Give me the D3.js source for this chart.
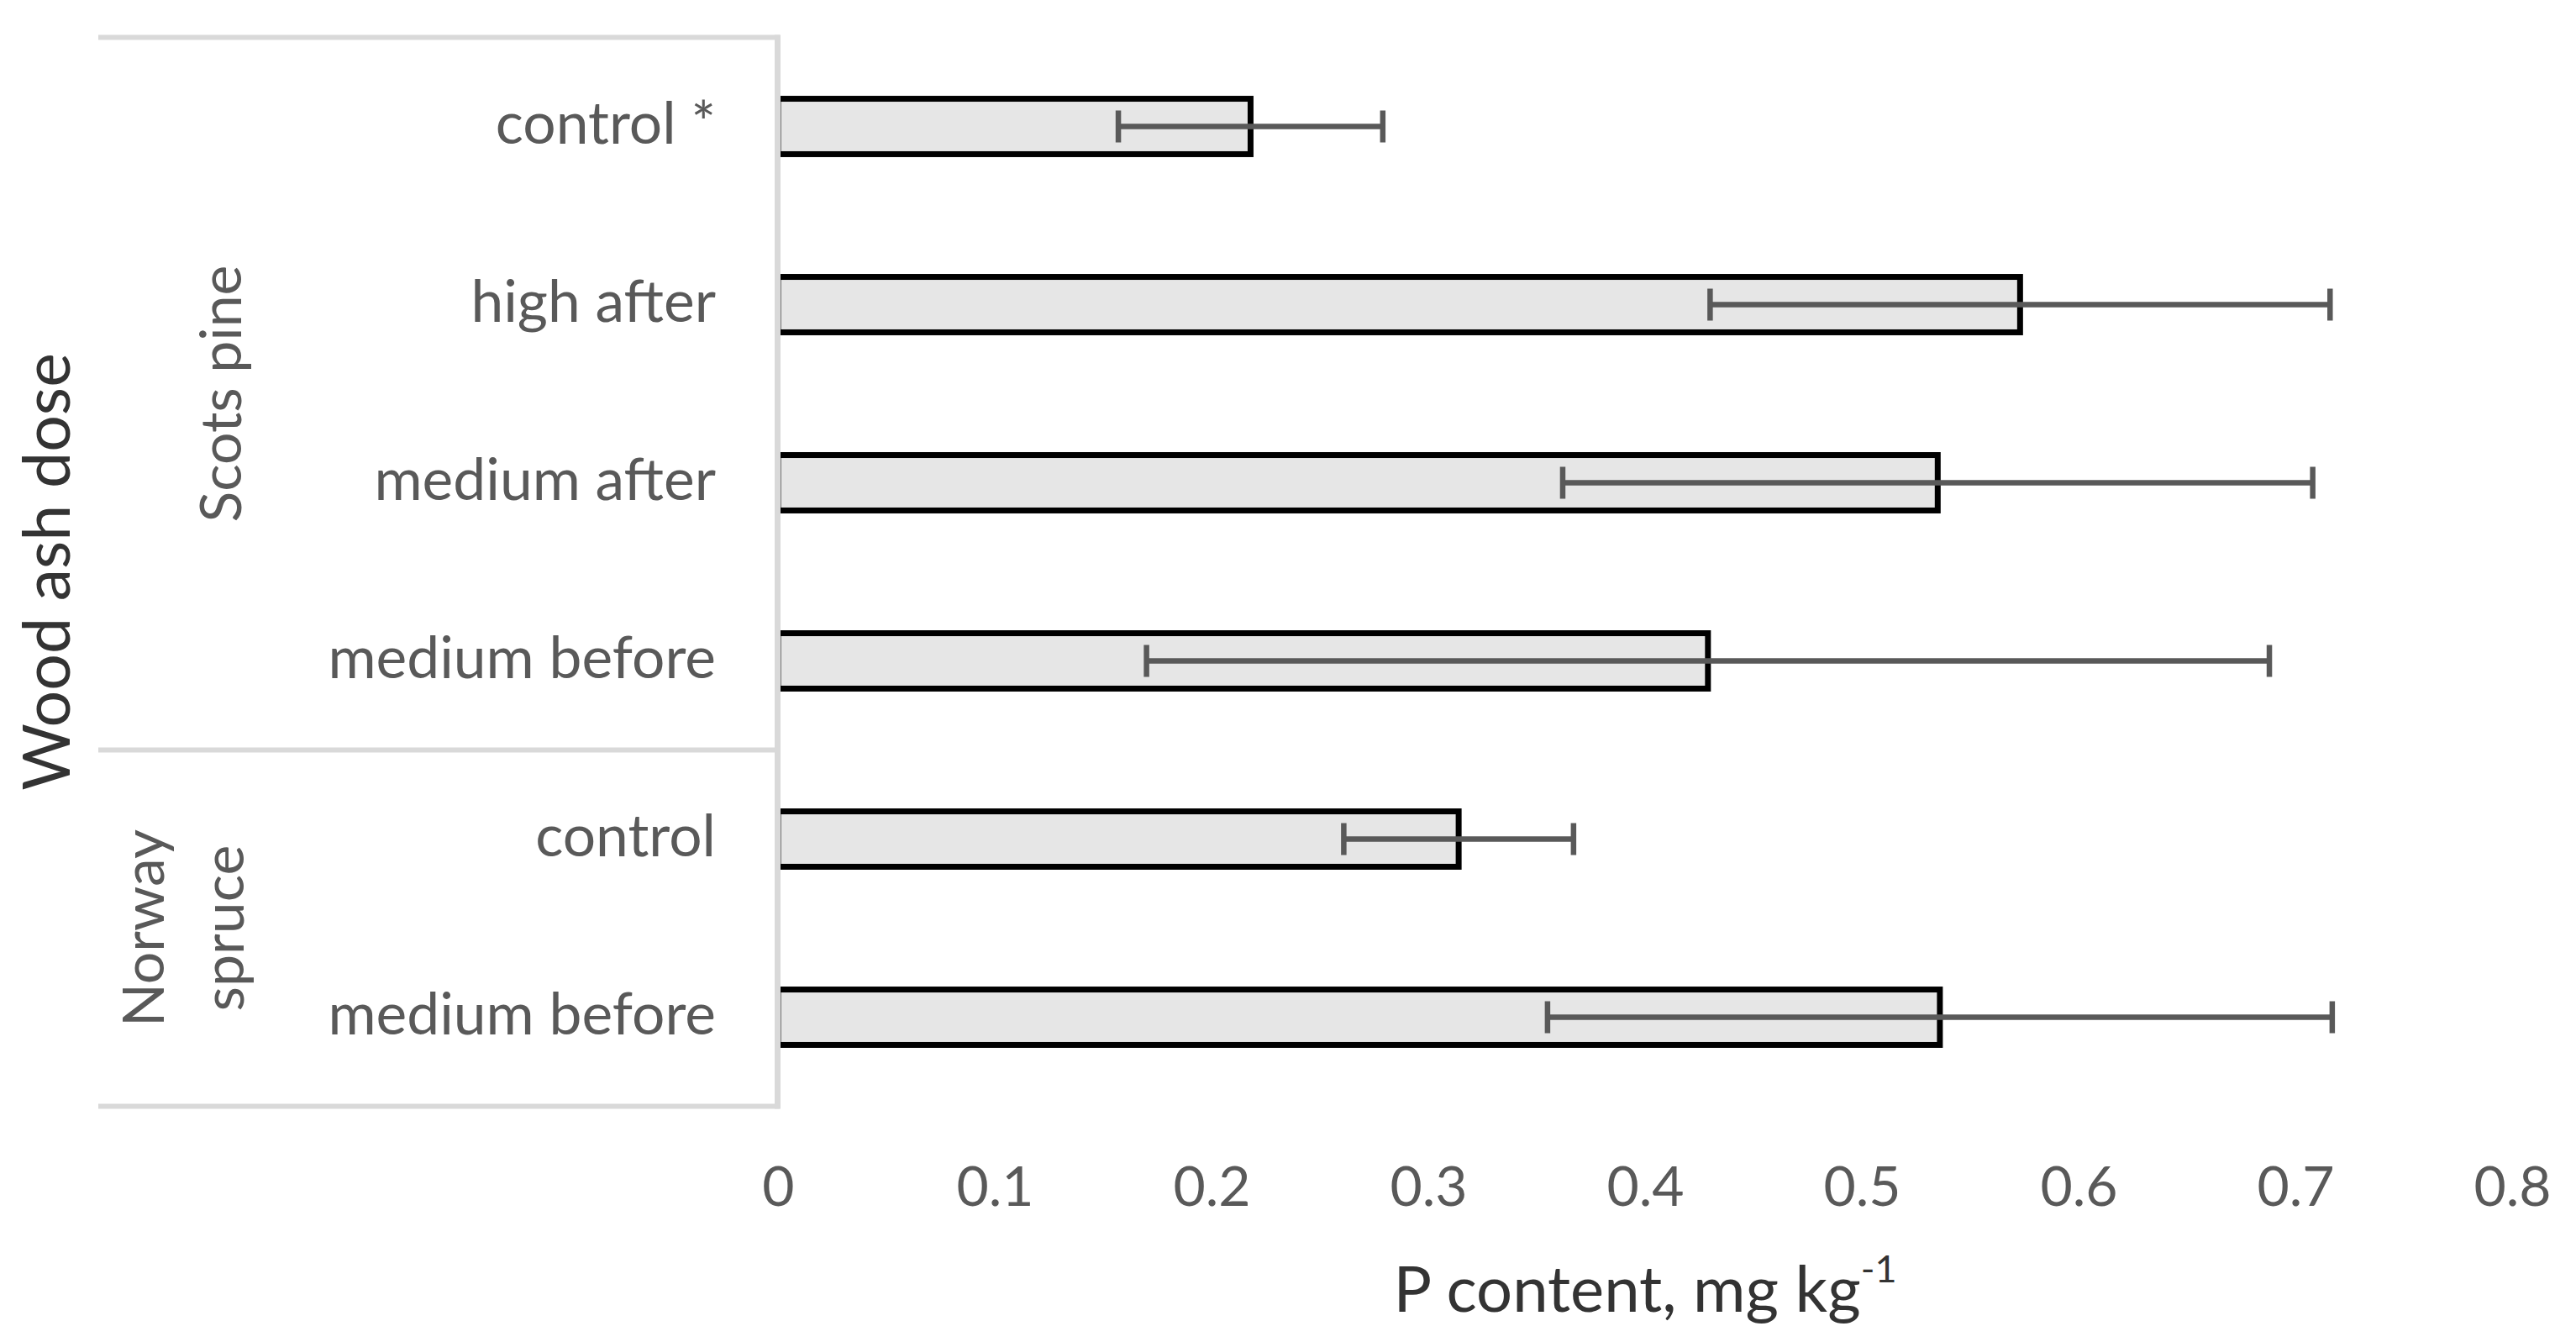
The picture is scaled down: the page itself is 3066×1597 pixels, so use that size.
<!DOCTYPE html>
<html>
<head>
<meta charset="utf-8">
<script src="https://cdn.jsdelivr.net/npm/d3@7"></script>
<style>
  body { margin: 0; background: #fff; }
  text { font-family: Lato, "Open Sans", sans-serif; }
</style>
</head>
<body>
<svg width="3066" height="1597"></svg>
<script>
// data (top to bottom)
var labels = ["control *", "high after", "medium after", "medium before", "control", "medium before"];
var groups = ["Scots pine", "Scots pine", "Scots pine", "Scots pine", "Norway spruce", "Norway spruce"];
var values = [0.218, 0.573, 0.535, 0.429, 0.314, 0.536];
var errors = [0.061, 0.143, 0.173, 0.259, 0.053, 0.181];
var xTicks = [0, 0.1, 0.2, 0.3, 0.4, 0.5, 0.6, 0.7, 0.8];

var svg = d3.select("svg");
var plotTop = 44.5;
var plotBottom = 1316.5;
var boxLeft = 117;
var labelGrey = "#595959";
var lineGrey = "#d9d9d9";

var x = d3.scaleLinear().domain([0, 0.8]).range([926, 2990]);
var y = d3.scaleBand().domain(d3.range(labels.length)).range([plotTop, plotBottom]);
var barH = y.bandwidth() * 0.311;

// bars
svg.append("g").selectAll("rect")
    .data(values)
    .enter().append("rect")
    .attr("x", x(0))
    .attr("y", function (d, i) { return y(i) + y.bandwidth() / 2 - barH / 2; })
    .attr("width", function (d) { return x(d) - x(0); })
    .attr("height", barH)
    .attr("fill", "#e6e6e6")
    .attr("stroke", "#000")
    .attr("stroke-width", 7);

// error bars
var err = svg.append("g").attr("stroke", labelGrey).attr("stroke-width", 6.5);
values.forEach(function (v, i) {
    var cy = y(i) + y.bandwidth() / 2;
    var lo = x(v - errors[i]), hi = x(v + errors[i]);
    err.append("line").attr("x1", lo).attr("x2", hi).attr("y1", cy).attr("y2", cy);
    err.append("line").attr("x1", lo).attr("x2", lo).attr("y1", cy - 19).attr("y2", cy + 19);
    err.append("line").attr("x1", hi).attr("x2", hi).attr("y1", cy - 19).attr("y2", cy + 19);
});

// category box lines
var groupNames = ["Scots pine", "Norway spruce"];
var split = y(groups.indexOf(groupNames[1]));
var box = svg.append("g").attr("stroke", lineGrey).attr("stroke-width", 6);
[plotTop, split, plotBottom].forEach(function (yy) {
    box.append("line").attr("x1", boxLeft).attr("x2", x(0) + 2).attr("y1", yy).attr("y2", yy);
});
box.append("line").attr("x1", x(0) - 0.5).attr("x2", x(0) - 0.5)
    .attr("y1", plotTop - 3).attr("y2", plotBottom + 3).attr("stroke-width", 7);

// category labels
var yAxis = d3.axisLeft(y).tickSize(0).tickPadding(0)
    .tickFormat(function (i) { return labels[i]; });
var ya = svg.append("g").attr("transform", "translate(852,0)").call(yAxis);
ya.select(".domain").remove();
ya.selectAll("text").attr("font-size", 69.5).attr("fill", labelGrey)
    .attr("font-family", "Lato, sans-serif").attr("dy", "0.30em");

// group labels
var scotsMid = (plotTop + split) / 2;
var spruceMid = (split + plotBottom) / 2;
svg.append("text")
    .attr("transform", "translate(287," + scotsMid + ") rotate(-90)")
    .attr("text-anchor", "middle").attr("font-size", 68).attr("fill", labelGrey)
    .text(groupNames[0]);
var spruceWords = groupNames[1].split(" ");
[195, 290].forEach(function (bx, k) {
    svg.append("text")
        .attr("transform", "translate(" + bx + "," + spruceMid + ") rotate(-90)")
        .attr("text-anchor", "middle").attr("font-size", 68).attr("fill", labelGrey)
        .text(spruceWords[k]);
});

// x axis labels
var xAxis = d3.axisBottom(x).tickValues(xTicks).tickSize(0).tickPadding(0)
    .tickFormat(d3.format(""));
var xa = svg.append("g").attr("transform", "translate(0,1435)").call(xAxis);
xa.select(".domain").remove();
xa.selectAll("text").attr("font-size", 66).attr("fill", labelGrey)
    .attr("font-family", "Lato, sans-serif").attr("dy", 0).attr("y", 0);

// axis titles
var xTitle = svg.append("text")
    .attr("x", (x(0) + x(0.8)) / 2).attr("y", 1561)
    .attr("text-anchor", "middle").attr("font-size", 76).attr("fill", "#333");
xTitle.append("tspan").text("P content, mg kg");
xTitle.append("tspan").attr("font-size", 45).attr("dy", -35).text("-1");

svg.append("text")
    .attr("transform", "translate(83," + (plotTop + plotBottom) / 2 + ") rotate(-90)")
    .attr("text-anchor", "middle").attr("font-size", 77).attr("fill", "#333")
    .text("Wood ash dose");
</script>
</body>
</html>
